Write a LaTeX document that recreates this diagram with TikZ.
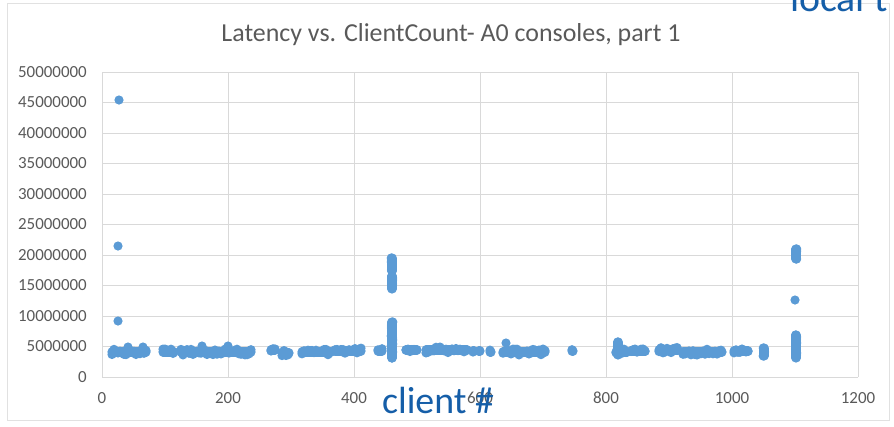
\documentclass[tikz,border=0pt]{standalone}
\usepackage{fontspec}
\setmainfont{Carlito}
\definecolor{dotblue}{RGB}{91,155,213}
\definecolor{gridgray}{RGB}{217,217,217}
\definecolor{titlegray}{RGB}{89,89,89}
\definecolor{axisgray}{RGB}{89,89,89}
\definecolor{noteblue}{RGB}{21,94,168}
\tikzset{
  dot/.style={fill=dotblue},
  blob/.style={draw=dotblue, line width=9.2bp, line cap=round},
  gridline/.style={draw=gridgray, line width=0.9bp},
  framebox/.style={draw=gridgray!80!white, line width=1bp},
  ticklabel/.style={text=axisgray, font=\fontsize{17}{20}\selectfont, inner sep=0pt},
  charttitle/.style={text=titlegray, font=\fontsize{26}{30}\selectfont, inner sep=0pt},
  note/.style={text=noteblue, font=\fontsize{38}{44}\selectfont, inner sep=0pt},
}
% horizontal run of overlapping markers: x1, x2, y centre, y half-spread
\newcommand\markband[4]{%
  \draw[blob] (#1,#3) -- (#2,#3);
  \pgfmathtruncatemacro\bandn{(#2-#1)/2}%
  \foreach \i in {0,...,\bandn}{%
    \pgfmathsetmacro\bx{#1+2*\i}%
    \pgfmathsetmacro\by{#3+#4*rand}%
    \fill[dot] (\bx,\by) circle[radius=4.6bp];
  }}
% vertical run of overlapping markers: x, y1, y2
\newcommand\markcol[3]{%
  \draw[blob] (#1,#2) -- (#1,#3);
  \pgfmathtruncatemacro\coln{(#3-#2)/2}%
  \foreach \i in {0,...,\coln}{%
    \pgfmathsetmacro\cy{#2+2*\i}%
    \pgfmathsetmacro\cx{#1+0.8*rand}%
    \fill[dot] (\cx,\cy) circle[radius=4.6bp];
  }}
\begin{document}
\begin{tikzpicture}[x=1bp,y=-1bp]
  \useasboundingbox (0,0) rectangle (894,426);
  \clip (0,0) rectangle (894,426);
  \pgfmathsetseed{4711}

  % chart frame
  \draw[framebox] (7,3) rectangle (889,420);

  % title
  \node[charttitle] (title) at (451,35) {Latency vs. ClientCount- A0 consoles, part 1};

  % grid and value labels (latency in steps of 5000000)
  \foreach \k in {0,...,10}{
    \pgfmathsetmacro\gy{377-30.5*\k}
    \draw[gridline] (102,\gy) -- (858,\gy);
    \pgfmathtruncatemacro\lab{5*\k}
    \node[ticklabel, anchor=east] (ylab\k) at (87,\gy) {\ifnum\k=0 0\else\lab000000\fi};
  }
  \foreach \k in {0,...,6}{
    \pgfmathsetmacro\gx{102+126*\k}
    \draw[gridline] (\gx,72) -- (\gx,377);
    \pgfmathtruncatemacro\lab{200*\k}
    \node[ticklabel] (xlab\k) at (\gx,398) {\lab};
  }

  % outliers at the smallest client count
  \fill[dot] (119,100) circle[radius=4.6bp];
  \fill[dot] (118,246) circle[radius=4.6bp];
  \fill[dot] (118,321) circle[radius=4.6bp];

  % baseline latency clusters
  \markband{112}{146}{352}{3}
  \fill[dot] (128,347) circle[radius=4.6bp];
  \fill[dot] (143,347) circle[radius=4.6bp];
  \markband{163}{174}{352}{3}
  \markband{181}{251}{352}{3}
  \fill[dot] (202,346) circle[radius=4.6bp];
  \fill[dot] (228,346) circle[radius=4.6bp];
  \markband{271}{275}{350}{2}
  \markband{282}{289}{353}{4}
  \markband{302}{331}{352}{3}
  \markband{335}{361}{351}{3}
  \markband{378}{382}{351}{3}
  \markcol{392}{258}{271}
  \markcol{392}{276}{289}
  \markcol{392}{322}{358}
  \markband{406}{417}{350}{2}
  \markband{426}{467}{350}{3}
  \markband{473}{474}{351}{2}
  \markband{479}{480}{351}{2}
  \markband{490}{491}{352}{2}
  \markband{503}{545}{352}{3}
  \fill[dot] (506,343) circle[radius=4.6bp];
  \markband{572}{573}{351}{2}
  \markcol{618}{342}{355}
  \markband{616}{627}{352}{3}
  \markband{631}{645}{351}{2}
  \markband{659}{678}{350}{3}
  \markband{683}{722}{352}{3}
  \markband{734}{748}{351}{2}
  \markcol{764}{348}{356}
  \markcol{796}{249}{259}
  \fill[dot] (795,300) circle[radius=4.6bp];
  \markcol{796}{335}{358}

  % overlaid annotations
  \node[note, anchor=base] (clientlbl) at (438,413) {client \#};
  \node[note, anchor=base west, font=\fontsize{40}{46}\selectfont] (locallbl) at (790,11) {local t};
\end{tikzpicture}
\end{document}
